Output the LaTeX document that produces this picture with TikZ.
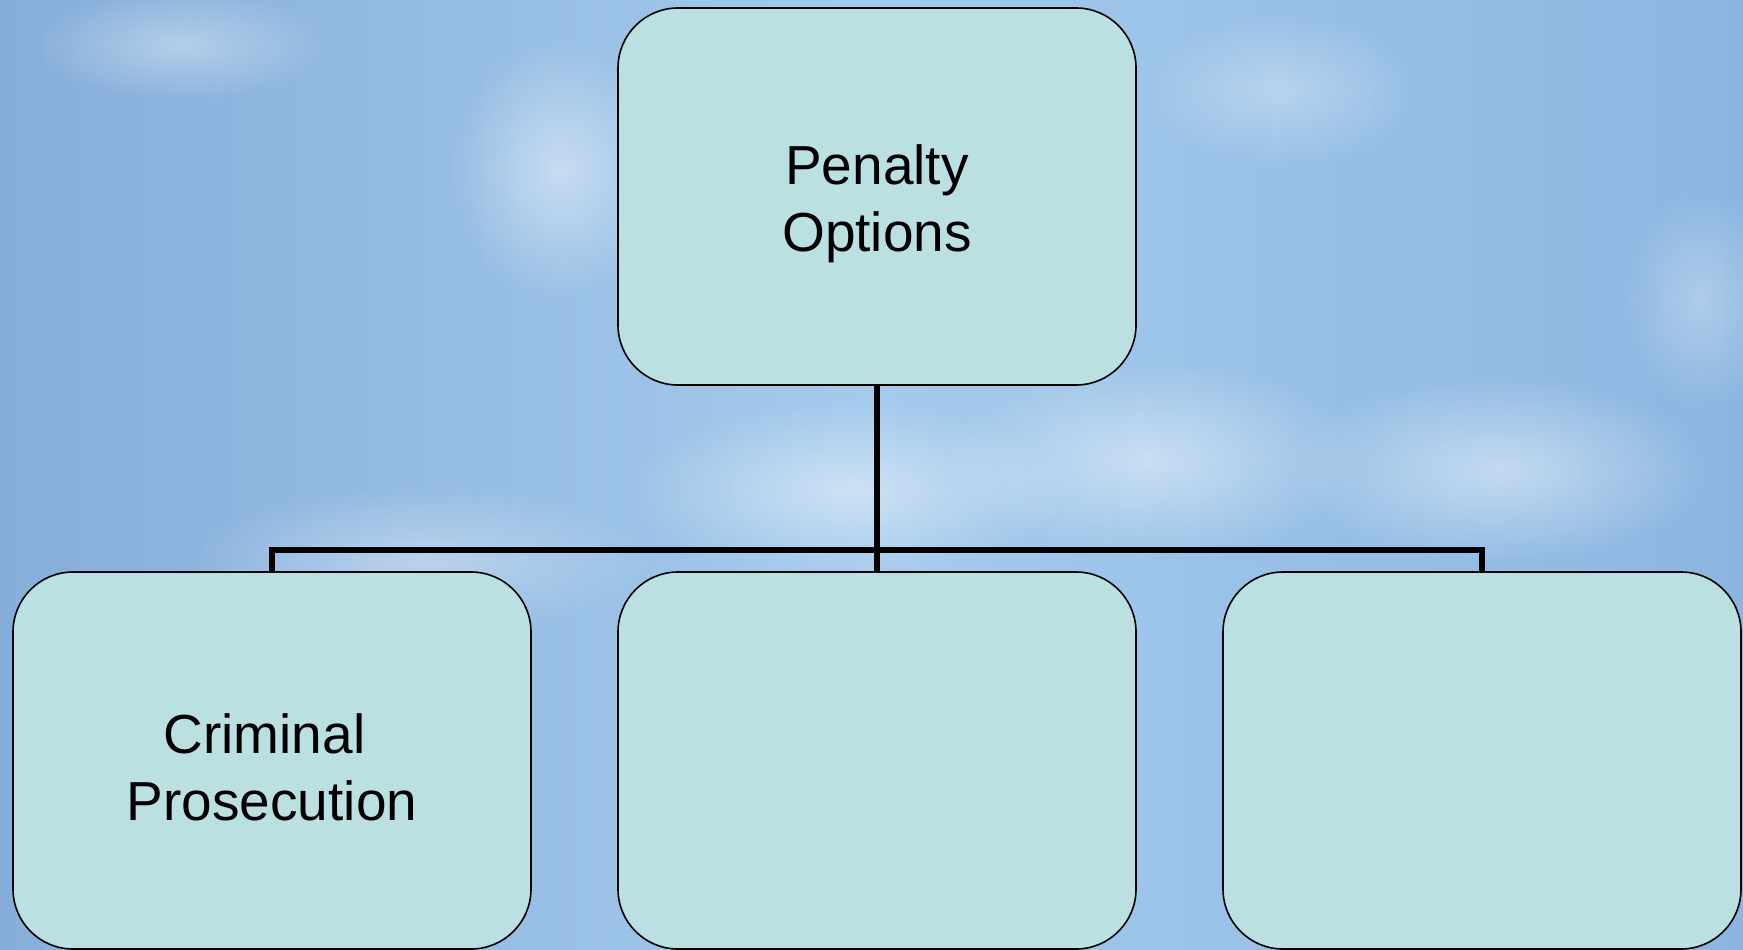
\documentclass[tikz,border=0pt]{standalone}
\usepackage{fontspec}
\setmainfont{Liberation Sans}
\usetikzlibrary{fadings}
\definecolor{boxfill}{RGB}{186,224,226}
\definecolor{skyA}{RGB}{134,174,218}
\definecolor{skyB}{RGB}{164,202,236}
\definecolor{skyC}{RGB}{140,182,225}
\tikzfading[name=softfade, inner color=transparent!0, outer color=transparent!100]
\newcommand{\topstrut}{\rule{0pt}{54pt}}
\begin{document}
\begin{tikzpicture}[x=1pt,y=-1pt,
  box/.style={draw=black, line width=1.6pt, fill=boxfill, rounded corners=60pt,
    minimum width=518pt, minimum height=377pt, inner sep=0pt, align=center,
    font=\fontsize{55}{67}\selectfont},
  conn/.style={draw=black, line width=5.5pt},
  cloud/.style={fill=white, path fading=softfade}]
\useasboundingbox (0,0) rectangle (1743,950);
% sky background
\shade[left color=skyA, right color=skyC, middle color=skyB] (0,0) rectangle (1743,950);
% soft clouds
\fill[cloud, opacity=0.35] (180,45) ellipse (150pt and 55pt);
\fill[cloud, opacity=0.45] (560,170) ellipse (110pt and 130pt);
\fill[cloud, opacity=0.3] (1280,90) ellipse (140pt and 75pt);
\fill[cloud, opacity=0.45] (850,490) ellipse (220pt and 90pt);
\fill[cloud, opacity=0.45] (1150,460) ellipse (210pt and 100pt);
\fill[cloud, opacity=0.45] (1500,470) ellipse (210pt and 95pt);
\fill[cloud, opacity=0.35] (420,560) ellipse (230pt and 75pt);
\fill[cloud, opacity=0.3] (1700,300) ellipse (80pt and 110pt);
% boxes
\node[box] (top) at (877,196.5) {\topstrut Penalty\\Options};
\node[box] (b1) at (272,760.5) {\topstrut Criminal\hspace*{15pt}\\Prosecution};
\node[box] (b2) at (877,760.5) {};
\node[box] (b3) at (1482,760.5) {};
% connectors
\draw[conn] (top.south) -- (b2.north);
\draw[conn] (b1.north) |- (b3.north |- 0,550) -- (b3.north);
\end{tikzpicture}
\end{document}
